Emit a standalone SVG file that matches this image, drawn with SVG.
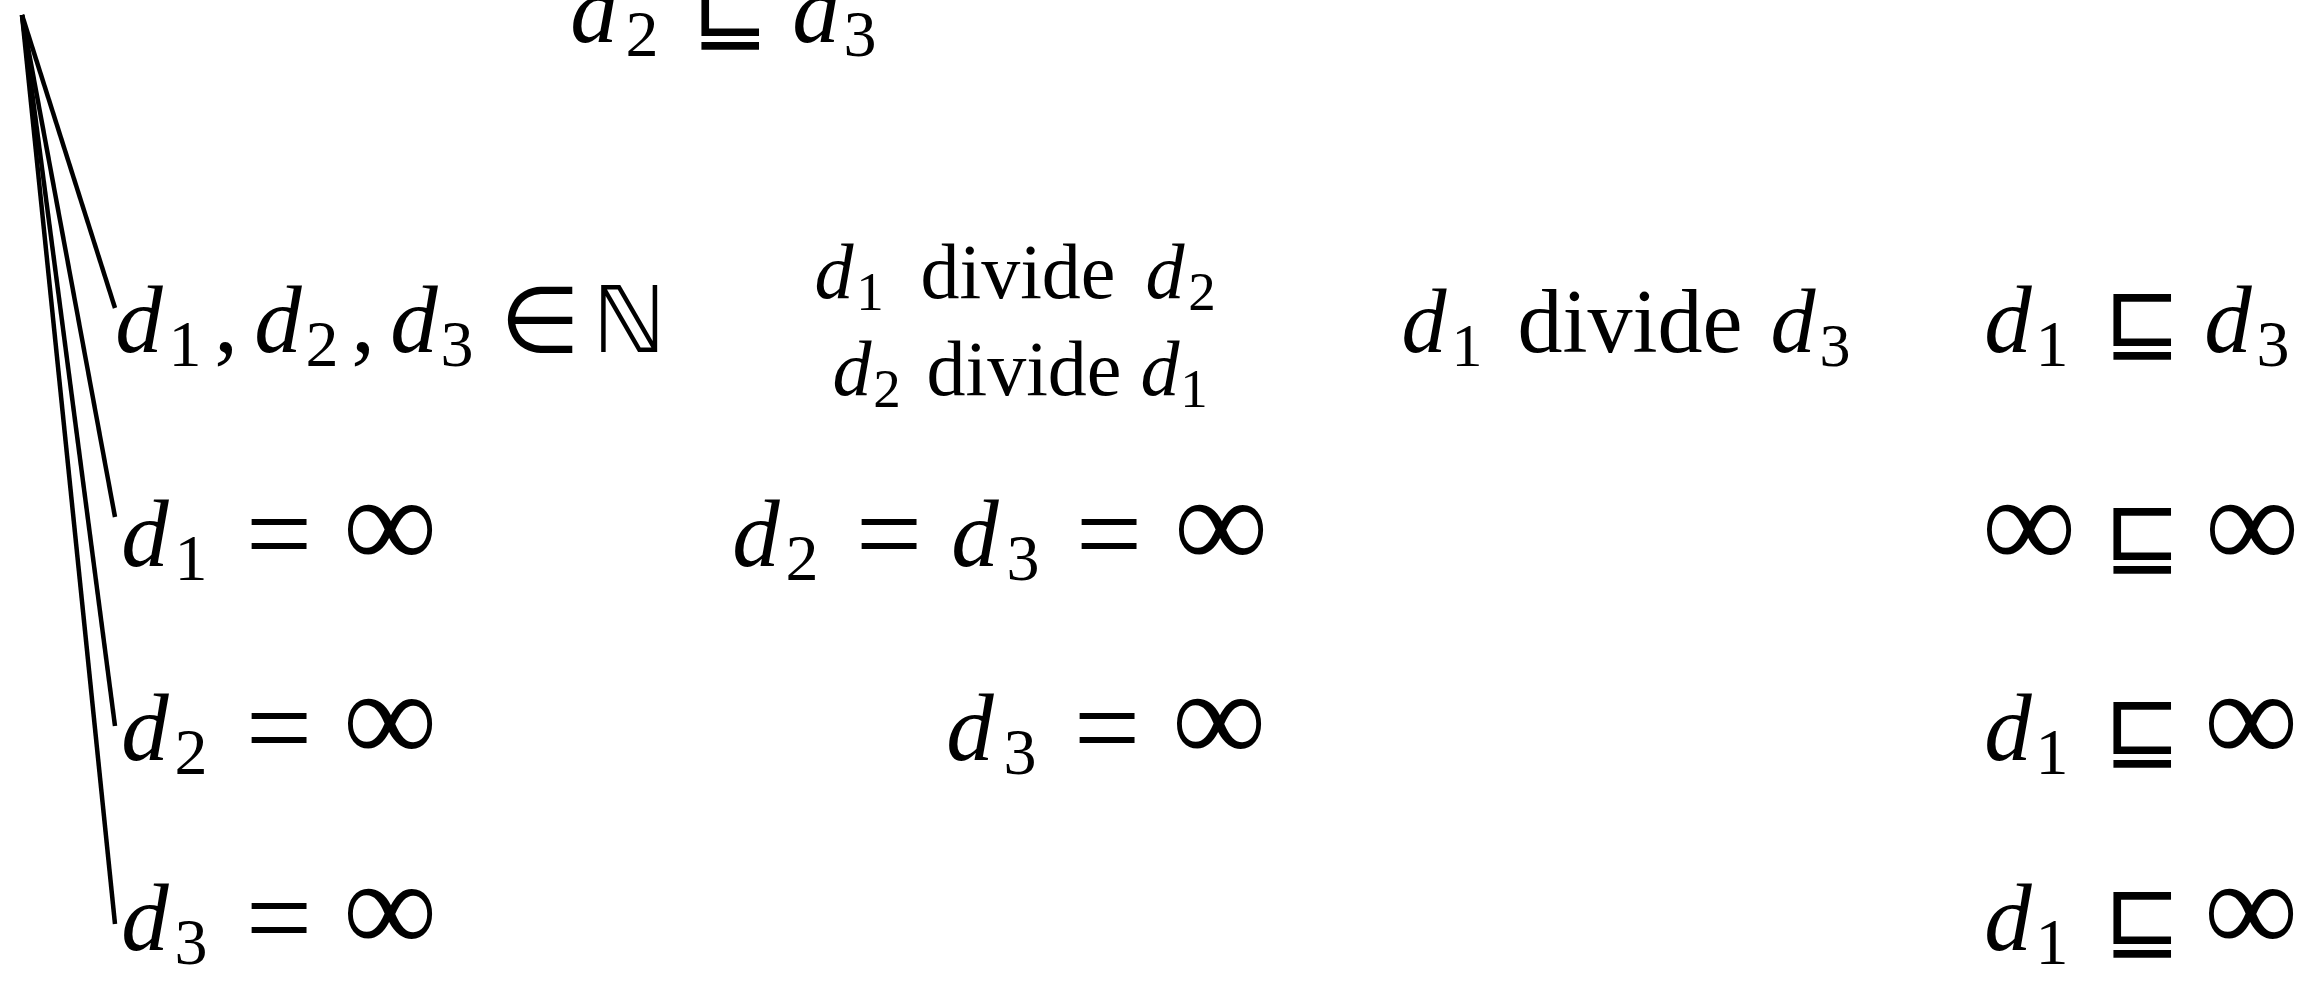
<svg xmlns="http://www.w3.org/2000/svg" width="2323" height="984" viewBox="0 0 2323 984">
<style>
text { text-anchor: middle; fill: #000; }
.v { font-family: "Liberation Serif", serif; font-style: italic; font-size: 95px; }
.s { font-family: "Liberation Serif", serif; font-size: 66px; }
.op { font-family: "DejaVu Sans", sans-serif; font-size: 92px; }
.eq { font-family: "Liberation Serif", serif; font-size: 118px; }
.inf { font-family: "Liberation Serif", "DejaVu Serif", serif; font-size: 132px; }
.rm { font-family: "Liberation Serif", serif; font-size: 95px; }
.vs { font-family: "Liberation Serif", serif; font-style: italic; font-size: 78px; }
.ss { font-family: "Liberation Serif", serif; font-size: 55px; }
.rs { font-family: "Liberation Serif", serif; font-size: 78px; }
.vm { font-family: "Liberation Serif", serif; font-style: italic; font-size: 90px; }
.sm { font-family: "Liberation Serif", serif; font-size: 62px; }
.rmm { font-family: "Liberation Serif", serif; font-size: 90px; }
.conn line { stroke: #000; stroke-width: 4.5; stroke-linecap: butt; }
</style>
<rect width="2323" height="984" fill="#fff"/>
<g id="connectors" class="conn">
<line x1="22" y1="15" x2="115" y2="308"/>
<line x1="22" y1="15" x2="115" y2="517"/>
<line x1="22" y1="15" x2="115" y2="726"/>
<line x1="22" y1="15" x2="115" y2="924"/>
</g>
<g id="top">
<text><tspan class="v" x="594" y="42">d</tspan><tspan class="s" x="642" y="56">2</tspan><tspan class="op" x="730" y="42">⊑</tspan><tspan class="v" x="816" y="42">d</tspan><tspan class="s" x="860" y="56">3</tspan></text>
</g>
<g id="root">
<text><tspan class="v" x="139" y="352">d</tspan><tspan class="s" x="185" y="366">1</tspan><tspan class="rm" x="226" y="352">,</tspan><tspan class="v" x="278" y="352">d</tspan><tspan class="s" x="322" y="366">2</tspan><tspan class="rm" x="363" y="352">,</tspan><tspan class="v" x="414" y="352">d</tspan><tspan class="s" x="457" y="366">3</tspan><tspan class="op" x="540" y="352">∈</tspan><tspan class="op" x="629" y="352">ℕ</tspan></text>
</g>
<g id="divide12">
<text><tspan class="vs" x="834" y="298">d</tspan><tspan class="ss" x="870" y="310">1</tspan><tspan class="rs" x="1018" y="298">divide</tspan><tspan class="vs" x="1165" y="298">d</tspan><tspan class="ss" x="1202" y="310">2</tspan></text>
<text><tspan class="vs" x="852" y="395">d</tspan><tspan class="ss" x="887" y="407">2</tspan><tspan class="rs" x="1024" y="395">divide</tspan><tspan class="vs" x="1160" y="395">d</tspan><tspan class="ss" x="1194" y="407">1</tspan></text>
</g>
<g id="divide13">
<text><tspan class="vm" x="1424" y="352">d</tspan><tspan class="sm" x="1467" y="366">1</tspan><tspan class="rmm" x="1630" y="352">divide</tspan><tspan class="vm" x="1793" y="352">d</tspan><tspan class="sm" x="1835" y="366">3</tspan></text>
</g>
<g id="leq13">
<text><tspan class="v" x="2008" y="352">d</tspan><tspan class="s" x="2052" y="366">1</tspan><tspan class="op" x="2142" y="352">⊑</tspan><tspan class="v" x="2228" y="352">d</tspan><tspan class="s" x="2273" y="366">3</tspan></text>
</g>
<g id="d1inf">
<text><tspan class="v" x="145" y="566">d</tspan><tspan class="s" x="191" y="580">1</tspan><tspan class="eq" x="279" y="574">=</tspan><tspan class="inf" x="390" y="568">∞</tspan></text>
</g>
<g id="d2d3inf">
<text><tspan class="v" x="756" y="566">d</tspan><tspan class="s" x="802" y="580">2</tspan><tspan class="eq" x="889" y="574">=</tspan><tspan class="v" x="975" y="566">d</tspan><tspan class="s" x="1023" y="580">3</tspan><tspan class="eq" x="1109" y="574">=</tspan><tspan class="inf" x="1221" y="568">∞</tspan></text>
</g>
<g id="infinf">
<text><tspan class="inf" x="2029" y="568">∞</tspan><tspan class="op" x="2142" y="566">⊑</tspan><tspan class="inf" x="2252" y="568">∞</tspan></text>
</g>
<g id="d2inf">
<text><tspan class="v" x="145" y="760">d</tspan><tspan class="s" x="191" y="774">2</tspan><tspan class="eq" x="279" y="768">=</tspan><tspan class="inf" x="390" y="762">∞</tspan></text>
</g>
<g id="d3inf-mid">
<text><tspan class="v" x="970" y="760">d</tspan><tspan class="s" x="1020" y="774">3</tspan><tspan class="eq" x="1107" y="768">=</tspan><tspan class="inf" x="1219" y="762">∞</tspan></text>
</g>
<g id="leq1inf-a">
<text><tspan class="v" x="2008" y="760">d</tspan><tspan class="s" x="2052" y="774">1</tspan><tspan class="op" x="2142" y="760">⊑</tspan><tspan class="inf" x="2251" y="762">∞</tspan></text>
</g>
<g id="d3inf">
<text><tspan class="v" x="145" y="950">d</tspan><tspan class="s" x="191" y="964">3</tspan><tspan class="eq" x="279" y="958">=</tspan><tspan class="inf" x="390" y="952">∞</tspan></text>
</g>
<g id="leq1inf-b">
<text><tspan class="v" x="2008" y="950">d</tspan><tspan class="s" x="2052" y="964">1</tspan><tspan class="op" x="2142" y="950">⊑</tspan><tspan class="inf" x="2251" y="952">∞</tspan></text>
</g>
</svg>
